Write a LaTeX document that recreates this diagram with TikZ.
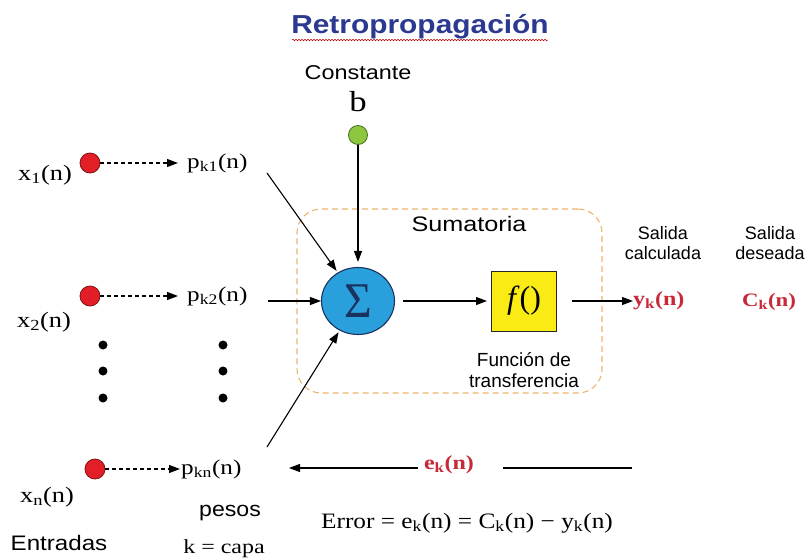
\documentclass[tikz,border=0pt]{standalone}
\usepackage{fontspec}
\setmainfont{Liberation Serif}
\setsansfont{Liberation Sans}
\usepackage{graphicx}
\usetikzlibrary{arrows.meta,decorations.pathmorphing,shapes.geometric}
\definecolor{titleblue}{RGB}{43,57,144}
\definecolor{dotred}{RGB}{226,30,38}
\definecolor{dotredline}{RGB}{130,20,20}
\definecolor{dotgreen}{RGB}{141,198,63}
\definecolor{dotgreenline}{RGB}{70,110,30}
\definecolor{sumblue}{RGB}{41,160,220}
\definecolor{sumline}{RGB}{25,50,95}
\definecolor{fyellow}{RGB}{250,235,20}
\definecolor{boxorange}{RGB}{238,180,110}
\definecolor{outred}{RGB}{200,40,55}
\newcommand\hs[2][1.2]{\scalebox{#1}[1]{#2}}
\newcommand\myfs[2]{\fontsize{#1}{#2}\selectfont}
\begin{document}
\begin{tikzpicture}[x=1pt,y=-1pt,
  serifl/.style={inner sep=0pt,font=\myfs{21}{24}},
  sansl/.style={inner sep=0pt,font=\sffamily\myfs{19}{21}},
  redl/.style={inner sep=0pt,text=outred,font=\bfseries\myfs{20}{24}},
  arr/.style={-{Triangle[length=11pt,width=8pt]},line width=1.1pt},
  darr/.style={arr,dash pattern=on 4pt off 3pt},
  indot/.style={circle,fill=dotred,draw=dotredline,line width=0.8pt,minimum size=20pt,inner sep=0pt},
  smalldot/.style={circle,fill=black,minimum size=9pt,inner sep=0pt}]
\useasboundingbox (0,0) rectangle (807,560);
\fill[white] (0,0) rectangle (807,560);

% title
\node (title) [inner sep=0pt,text=titleblue,font=\sffamily\bfseries\myfs{26}{30}] at (420,27) {\hs[1.15]{Retropropagación}};
\draw[red!75!black,line width=0.5pt,decorate,decoration={snake,amplitude=0.8pt,segment length=3pt}] (292,40) -- (548,40);

% constant
\node (const) [sansl,font=\sffamily\myfs{20}{22}] at (358,73) {\hs[1.17]{Constante}};
\node (b) [serifl,font=\myfs{29}{30}] at (358,102) {\hs{b}};
\node (bdot) [circle,fill=dotgreen,draw=dotgreenline,line width=0.8pt,minimum size=19pt,inner sep=0pt] at (358,135) {};

% summation box
\node (sumbox) [draw=boxorange,line width=1.1pt,dash pattern=on 6pt off 4pt,rounded corners=24pt,minimum width=305pt,minimum height=184pt] at (449.5,301) {};
\node (sumt) [sansl,font=\sffamily\myfs{21}{24}] at (469,224) {\hs{Sumatoria}};
\node (sum) [ellipse,fill=sumblue,draw=sumline,line width=1.1pt,minimum width=73pt,minimum height=67pt,inner sep=0pt] at (358,301) {\color{sumline}\myfs{50}{50}\hs[0.95]{Σ}};
\node (fbox) [draw=black!85,fill=fyellow,line width=1pt,minimum width=65pt,minimum height=60pt,inner sep=0pt] at (524,301) {\myfs{32}{32}\textit{f}()};
\node (ftext) [sansl,align=center] at (524,370) {Función de\\transferencia};

% outputs
\node (salc) [sansl,align=center,font=\sffamily\myfs{18}{20}] at (663,243) {Salida\\calculada};
\node (sald) [sansl,align=center,font=\sffamily\myfs{18}{20}] at (770,243) {Salida\\deseada};
\node (yk) [redl,anchor=west] at (633,301) {\hs{y\textsubscript{k}(n)}};
\node (ck) [redl,font=\bfseries\myfs{19}{22}] at (769,302) {\hs{C\textsubscript{k}(n)}};

% inputs
\node (d1) [indot] at (90,163) {};
\node (d2) [indot] at (90,296) {};
\node (dn) [indot] at (95,469) {};
\node (x1) [serifl,font=\myfs{22}{24}] at (45,175) {\hs{x\textsubscript{1}(n)}};
\node (x2) [serifl,font=\myfs{22}{24}] at (44,322) {\hs{x\textsubscript{2}(n)}};
\node (xn) [serifl,font=\myfs{22}{24}] at (47,497) {\hs{x\textsubscript{n}(n)}};
\node (pk1) [serifl,anchor=west,inner xsep=9pt] at (178,163) {\hs{p\textsubscript{k1}(n)}};
\node (pk2) [serifl,anchor=west,inner xsep=9pt] at (178,296) {\hs{p\textsubscript{k2}(n)}};
\node (pkn) [serifl,anchor=west,inner xsep=1pt] at (180,469) {\hs{p\textsubscript{kn}(n)}};

\draw[darr] (d1) -- (pk1.west);
\draw[darr] (d2) -- (pk2.west);
\draw[darr] (dn) -- (pkn.west);

% vertical dots
\foreach \i/\yy in {1/345,2/371,3/398}{
  \node (va\i) [smalldot] at (103,\yy) {};
  \node (vb\i) [smalldot] at (223,\yy) {};
}

% connectors to summation
\coordinate (s1) at (267,173);
\coordinate (s2) at (268,301);
\coordinate (s3) at (267,447);
\draw[arr,shorten >=2pt] (s1) -- (sum);
\draw[arr] (s2) -- (sum.west);
\draw[arr,shorten >=2pt] (s3) -- (sum);
\draw[arr,shorten >=5pt] (bdot) -- (sum);
\draw[arr,shorten <=8pt,shorten >=4pt] (sum.east) -- (fbox.west);
\draw[arr,shorten <=15pt] (fbox.east) -- (yk.west);

% error
\node (ek) [redl] at (449,465) {\hs{e\textsubscript{k}(n)}};
\coordinate (ea) at (418,468);
\coordinate (etip) at (289,468);
\coordinate (eb) at (503,468);
\coordinate (ec) at (632,468);
\draw[arr] (ea) -- (etip);
\draw[line width=1.1pt] (eb) -- (ec);

% bottom texts
\node (entr) [sansl,font=\sffamily\myfs{21}{24}] at (59,543) {\hs[1.15]{Entradas}};
\node (pesos) [sansl,font=\sffamily\myfs{21}{24}] at (230,513) {\hs[1.1]{pesos}};
\node (capa) [serifl,font=\myfs{20}{24}] at (224,549) {\hs{k = capa}};
\node (err) [serifl,font=\myfs{22}{24}] at (467,523) {\hs[1.15]{Error = e\textsubscript{k}(n) = C\textsubscript{k}(n) − y\textsubscript{k}(n)}};
\end{tikzpicture}
\end{document}
